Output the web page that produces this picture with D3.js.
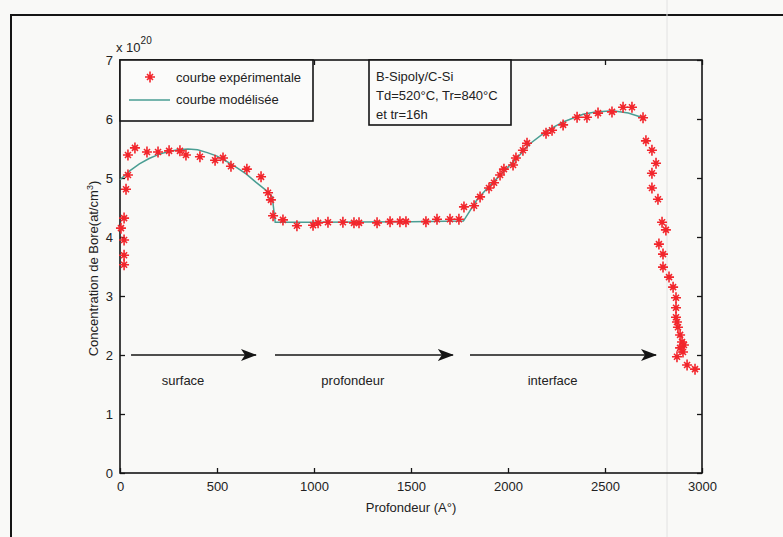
<!DOCTYPE html>
<html>
<head>
<meta charset="utf-8">
<script src="https://cdn.jsdelivr.net/npm/d3@7"></script>
<style>
  body { margin: 0; background: #f9f9f7; }
  svg { display: block; font-family: "Liberation Sans", Arial, sans-serif; }
</style>
</head>
<body>
<svg></svg>
<script>
// experimental points (depth in A°, concentration in 1e20 at/cm3)
var expX = [5, 21, 21, 21, 31, 41, 41, 77, 139, 196, 253, 309, 340, 412, 490, 531, 572, 654, 727, 763, 778, 789,
  840, 912, 995, 1021, 1072, 1149, 1206, 1232, 1325, 1392, 1443, 1474, 1577, 1634, 1701, 1747, 1773, 1825,
  1856, 1902, 1928, 1959, 1979, 2026, 2041, 2077, 2098, 2196, 2227, 2284, 2356, 2407, 2464, 2536, 2593, 2639,
  2696, 2711, 2742, 2763, 2742, 2742, 2773, 2794, 2814, 2778, 2799, 2799, 2830, 2851, 2866, 2866, 2866, 2871,
  2876, 2887, 2897, 2907, 2887, 2902, 2871, 2923, 2964, 21]
var expY = [4.15, 4.32, 3.95, 3.69, 4.81, 5.05, 5.39, 5.51, 5.44, 5.44, 5.46, 5.46, 5.39, 5.36, 5.30, 5.34, 5.20, 5.15, 5.02, 4.75, 4.63, 4.36,
  4.29, 4.19, 4.20, 4.24, 4.25, 4.25, 4.24, 4.24, 4.24, 4.26, 4.26, 4.26, 4.26, 4.30, 4.30, 4.30, 4.51, 4.53,
  4.68, 4.83, 4.92, 5.05, 5.15, 5.22, 5.34, 5.47, 5.59, 5.76, 5.81, 5.90, 6.03, 6.03, 6.10, 6.12, 6.20, 6.20,
  6.02, 5.63, 5.47, 5.25, 5.08, 4.83, 4.64, 4.25, 4.12, 3.88, 3.71, 3.49, 3.32, 3.15, 2.97, 2.80, 2.64, 2.56,
  2.47, 2.34, 2.22, 2.17, 2.12, 2.05, 1.97, 1.83, 1.76, 3.53]

// modelled curve
var modX = [0, 50, 100, 150, 200, 250, 300, 350, 400, 450, 500, 550, 600, 650, 700, 750, 785, 800, 1000, 1500, 1770,
  1840, 1900, 1975, 2050, 2113, 2200, 2284, 2387, 2450, 2541, 2620, 2696]
var modY = [4.97, 5.12, 5.24, 5.33, 5.40, 5.45, 5.48, 5.49, 5.48, 5.43, 5.37, 5.28, 5.18, 5.07, 4.93, 4.80, 4.68, 4.25, 4.25, 4.26, 4.27,
  4.63, 4.85, 5.10, 5.35, 5.58, 5.80, 5.95, 6.08, 6.12, 6.14, 6.10, 6.02]

// region arrows and their labels
var arrowStart = [57, 799, 1804]
var arrowEnd = [701, 1716, 2763]
var arrowLevel = 2
var zoneLabels = ["surface", "profondeur", "interface"]
var zoneLabelX = [325, 1200, 2230]
var zoneLabelY = 1.58

var xTicks = [0, 500, 1000, 1500, 2000, 2500, 3000]
var yTicks = [0, 1, 2, 3, 4, 5, 6, 7]
var legendLabels = ["courbe expérimentale", "courbe modélisée"]
var infoLines = ["B-Sipoly/C-Si", "Td=520°C, Tr=840°C", "et tr=16h"]

var W = 783, H = 537
var margin = ({top: 60, right: 81, bottom: 64, left: 120})

var svg = d3.select("svg").attr("width", W).attr("height", H)

var x = d3.scaleLinear().domain([0, 3000]).range([margin.left, W - margin.right])
var y = d3.scaleLinear().domain([0, 7]).range([H - margin.bottom, margin.top])

var ink = "#151515"
var fmt = d3.format("d")

// scanned page frame
svg.append("line").attr("x1", 10).attr("x2", W).attr("y1", 15).attr("y2", 15)
  .attr("stroke", ink).attr("stroke-width", 2)
svg.append("line").attr("x1", 11).attr("x2", 11).attr("y1", 15).attr("y2", H)
  .attr("stroke", ink).attr("stroke-width", 2)
svg.append("line").attr("x1", 667).attr("x2", 667).attr("y1", 0).attr("y2", H)
  .attr("stroke", "#e2e2e2").attr("stroke-width", 1)

// axes, MATLAB style: ticks inward on all four sides
svg.append("g").attr("transform", `translate(0,${y(0)})`)
  .call(d3.axisBottom(x).tickValues(xTicks).tickSize(-5).tickPadding(9).tickFormat(fmt))
  .call(g => g.select(".domain").remove())
svg.append("g").attr("transform", `translate(0,${y(7)})`)
  .call(d3.axisTop(x).tickValues(xTicks).tickSize(-5).tickFormat(""))
  .call(g => g.select(".domain").remove())
svg.append("g").attr("transform", `translate(${x(0)},0)`)
  .call(d3.axisLeft(y).tickValues(yTicks).tickSize(-5).tickPadding(7).tickFormat(fmt))
  .call(g => g.select(".domain").remove())
svg.append("g").attr("transform", `translate(${x(3000)},0)`)
  .call(d3.axisRight(y).tickValues(yTicks).tickSize(-5).tickFormat(""))
  .call(g => g.select(".domain").remove())

svg.selectAll(".tick line").attr("stroke", ink).attr("stroke-width", 1.3)
svg.selectAll(".tick text").attr("fill", "#222").attr("font-size", 13)
  .attr("font-family", "Liberation Sans, Arial, sans-serif")

svg.append("rect")
  .attr("x", x(0)).attr("y", y(7))
  .attr("width", x(3000) - x(0)).attr("height", y(0) - y(7))
  .attr("fill", "none").attr("stroke", ink).attr("stroke-width", 1.6)

// exponent
var ex = svg.append("text").attr("x", 116).attr("y", 52).attr("font-size", 13).attr("fill", "#222")
ex.append("tspan").text("x 10")
ex.append("tspan").attr("dy", -8).attr("font-size", 10).text("20")

// axis titles
svg.append("text").attr("x", x(1500)).attr("y", 512).attr("text-anchor", "middle")
  .attr("font-size", 13).attr("fill", "#222").text("Profondeur (A°)")
var yl = svg.append("text").attr("transform", `translate(98,${y(3.5) + 2}) rotate(-90)`)
  .attr("text-anchor", "middle").attr("font-size", 13).attr("fill", "#222")
yl.append("tspan").text("Concentration de Bore(at/cm")
yl.append("tspan").attr("dy", -5).attr("font-size", 9).text("3")
yl.append("tspan").attr("dy", 5).text(")")

// model curve
var line = d3.line().x((d, i) => x(modX[i])).y((d, i) => y(modY[i]))
svg.append("path").datum(modX).attr("d", line)
  .attr("fill", "none").attr("stroke", "#4a9e93").attr("stroke-width", 1.5)

// star marker
function star(g) {
  g.append("path")
    .attr("d", "M-5,0H5M0,-5.5V5.5M-3,-3L3,3M-3,3L3,-3")
    .attr("stroke", "#f2262c").attr("stroke-width", 1.6).attr("fill", "none")
}
svg.append("g").selectAll("g").data(expX).join("g")
  .attr("transform", (d, i) => `translate(${x(d)},${y(expY[i])})`)
  .call(star)

// arrows
svg.append("defs").append("marker").attr("id", "head")
  .attr("viewBox", "0 0 16 12").attr("refX", 15).attr("refY", 6)
  .attr("markerWidth", 16).attr("markerHeight", 12).attr("markerUnits", "userSpaceOnUse")
  .attr("orient", "auto")
  .append("path").attr("d", "M0,0L16,6L0,12L4,6Z").attr("fill", ink)
svg.append("g").selectAll("line").data(arrowStart).join("line")
  .attr("x1", d => x(d)).attr("x2", (d, i) => x(arrowEnd[i]))
  .attr("y1", y(arrowLevel)).attr("y2", y(arrowLevel))
  .attr("stroke", ink).attr("stroke-width", 1.6).attr("marker-end", "url(#head)")
svg.append("g").selectAll("text").data(zoneLabels).join("text")
  .attr("x", (d, i) => x(zoneLabelX[i])).attr("y", y(zoneLabelY) + 5)
  .attr("text-anchor", "middle").attr("font-size", 13).attr("fill", "#222")
  .text(d => d)

// legend box
svg.append("rect").attr("x", x(0)).attr("y", y(7)).attr("width", 193).attr("height", 61)
  .attr("fill", "#fbfbfa").attr("stroke", ink).attr("stroke-width", 1.6)
svg.append("g").attr("transform", "translate(150,77)").call(star)
svg.append("line").attr("x1", 129).attr("x2", 170).attr("y1", 100).attr("y2", 100)
  .attr("stroke", "#4a9e93").attr("stroke-width", 1.5)
svg.append("g").selectAll("text").data(legendLabels).join("text")
  .attr("x", 176).attr("y", (d, i) => 82 + i * 22)
  .attr("font-size", 13).attr("fill", "#222").text(d => d)

// info box
svg.append("rect").attr("x", 369).attr("y", y(7)).attr("width", 142).attr("height", 65)
  .attr("fill", "#fbfbfa").attr("stroke", ink).attr("stroke-width", 1.6)
svg.append("g").selectAll("text").data(infoLines).join("text")
  .attr("x", 376).attr("y", (d, i) => 81 + i * 19)
  .attr("font-size", 13).attr("fill", "#222").text(d => d)
</script>
</body>
</html>
